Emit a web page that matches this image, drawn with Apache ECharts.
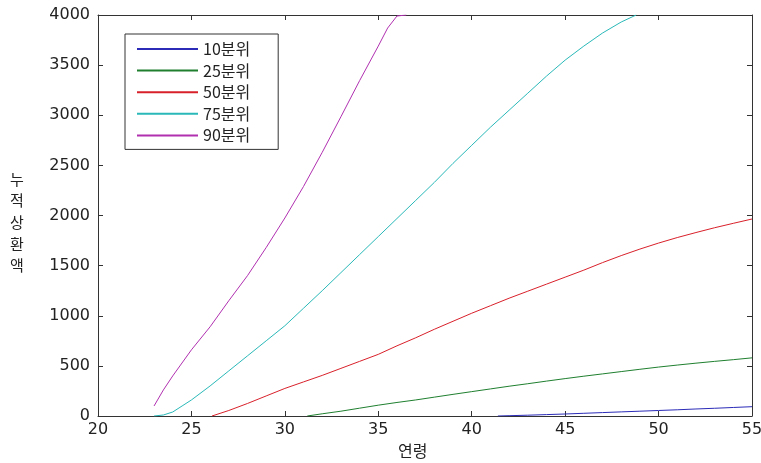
<!DOCTYPE html>
<html>
<head>
<meta charset="utf-8">
<script src="https://cdn.jsdelivr.net/npm/echarts@6/dist/echarts.min.js"></script>
<style>
html,body{margin:0;padding:0;background:#fff;}
#chart{width:761px;height:463px;}
</style>
</head>
<body>
<div id="chart"></div>
<script>
// Category / tick info
var xTicks = [20, 25, 30, 35, 40, 45, 50, 55];
var yTicks = [0, 500, 1000, 1500, 2000, 2500, 3000, 3500, 4000];
var seriesNames = ['10분위', '25분위', '50분위', '75분위', '90분위'];

// 10분위
var ages10 = [41.4, 42, 43, 44, 45, 46, 47, 48, 49, 50, 51, 52, 53, 54, 55];
var cum10  = [0, 3, 8, 14, 20, 27, 34, 41, 48, 55, 62, 70, 77, 85, 93];

// 25분위
var ages25 = [31.2, 32, 33, 34, 35, 36, 37, 38, 39, 40, 41, 42, 43, 44, 45, 46, 47, 48, 49, 50, 51, 52, 53, 54, 55];
var cum25  = [0, 22, 48, 78, 108, 135, 160, 188, 216, 243, 270, 297, 322, 348, 373, 397, 420, 443, 466, 488, 508, 527, 545, 562, 580];

// 50분위
var ages50 = [26.1, 27, 28, 29, 30, 31, 32, 33, 34, 35, 36, 37, 38, 39, 40, 41, 42, 43, 44, 45, 46, 47, 48, 49, 50, 51, 52, 53, 54, 55];
var cum50  = [0, 55, 125, 200, 275, 340, 405, 475, 545, 615, 700, 780, 865, 945, 1025, 1100, 1175, 1245, 1315, 1385, 1455, 1530, 1600, 1665, 1725, 1780, 1830, 1878, 1922, 1965];

// 75분위
var ages75 = [23, 23.5, 24, 24.5, 25, 26, 27, 28, 29, 30, 31, 32, 33, 34, 35, 36, 37, 38, 39, 40, 41, 42, 43, 44, 45, 46, 47, 48, 48.8];
var cum75  = [0, 10, 40, 100, 160, 300, 450, 600, 750, 900, 1075, 1250, 1430, 1610, 1790, 1970, 2150, 2330, 2520, 2700, 2880, 3050, 3220, 3390, 3550, 3690, 3820, 3930, 4000];

// 90분위
var ages90 = [23, 23.5, 24, 25, 26, 27, 28, 29, 30, 31, 32, 33, 34, 35, 35.5, 36, 36.5];
var cum90  = [100, 260, 400, 660, 890, 1150, 1400, 1680, 1975, 2290, 2630, 2985, 3345, 3690, 3870, 3990, 4000];

var colors = ['#2b2bb8', '#1f7f2f', '#d8202a', '#2ab8b8', '#b030b0'];

function pairs(xs, ys) {
  var out = [];
  for (var i = 0; i < xs.length; i++) out.push([xs[i], ys[i]]);
  return out;
}
var allData = [pairs(ages10, cum10), pairs(ages25, cum25), pairs(ages50, cum50), pairs(ages75, cum75), pairs(ages90, cum90)];

var tickFont = 'DejaVu Sans';
var axisCol = '#333';

var series = seriesNames.map(function (n, i) {
  return {
    name: n,
    type: 'line',
    data: allData[i],
    symbol: 'none',
    showSymbol: false,
    clip: true,
    xAxisIndex: 0,
    yAxisIndex: 0,
    lineStyle: { width: 1, color: colors[i] },
    itemStyle: { color: colors[i] },
    animation: false
  };
});

var chart = echarts.init(document.getElementById('chart'), null, { renderer: 'canvas' });
chart.setOption({
  backgroundColor: '#fff',
  animation: false,
  color: colors,
  grid: { left: 98, right: 9, top: 15, bottom: 47, containLabel: false, outerBoundsMode: 'none' },
  legend: {
    orient: 'vertical',
    left: 125,
    top: 34,
    data: seriesNames,
    icon: 'rect',
    itemWidth: 61,
    itemHeight: 2,
    itemGap: 5.6,
    padding: [7, 28, 6, 12],
    borderColor: '#333',
    borderWidth: 1,
    backgroundColor: '#fff',
    textStyle: { fontFamily: 'Noto Sans CJK KR', fontSize: 16, color: '#222' }
  },
  xAxis: [{
    type: 'value', min: 20, max: 55, interval: 5, position: 'bottom',
    axisLine: { show: true, lineStyle: { color: axisCol, width: 1 } },
    axisTick: { show: true, inside: true, length: 5, lineStyle: { color: axisCol } },
    axisLabel: { margin: 6, fontFamily: tickFont, fontSize: 16, color: '#222', formatter: function (v) { return String(v); } },
    splitLine: { show: false }
  }, {
    type: 'value', min: 20, max: 55, interval: 5, position: 'top',
    axisLine: { show: true, onZero: false, lineStyle: { color: axisCol, width: 1 } },
    axisTick: { show: true, inside: true, length: 5, lineStyle: { color: axisCol } },
    axisLabel: { show: false },
    splitLine: { show: false }
  }],
  yAxis: [{
    type: 'value', min: 0, max: 4000, interval: 500, position: 'left',
    axisLine: { show: true, onZero: false, lineStyle: { color: axisCol, width: 1 } },
    axisTick: { show: true, inside: true, length: 5, lineStyle: { color: axisCol } },
    axisLabel: { margin: 8, fontFamily: tickFont, fontSize: 16, color: '#222', formatter: function (v) { return String(v); } },
    splitLine: { show: false }
  }, {
    type: 'value', min: 0, max: 4000, interval: 500, position: 'right',
    axisLine: { show: true, onZero: false, lineStyle: { color: axisCol, width: 1 } },
    axisTick: { show: true, inside: true, length: 5, lineStyle: { color: axisCol } },
    axisLabel: { show: false },
    splitLine: { show: false }
  }],
  graphic: [{
    type: 'text',
    left: 10,
    top: 168,
    style: {
      text: '누\n적\n상\n환\n액',
      fontFamily: 'Noto Sans CJK KR',
      fontSize: 15,
      lineHeight: 21.7,
      fill: '#222'
    }
  }, {
    type: 'text',
    left: 398,
    top: 443,
    style: {
      text: '연령',
      fontFamily: 'Noto Sans CJK KR',
      fontSize: 16,
      fill: '#222'
    }
  }],
  series: series
});
</script>
</body>
</html>
